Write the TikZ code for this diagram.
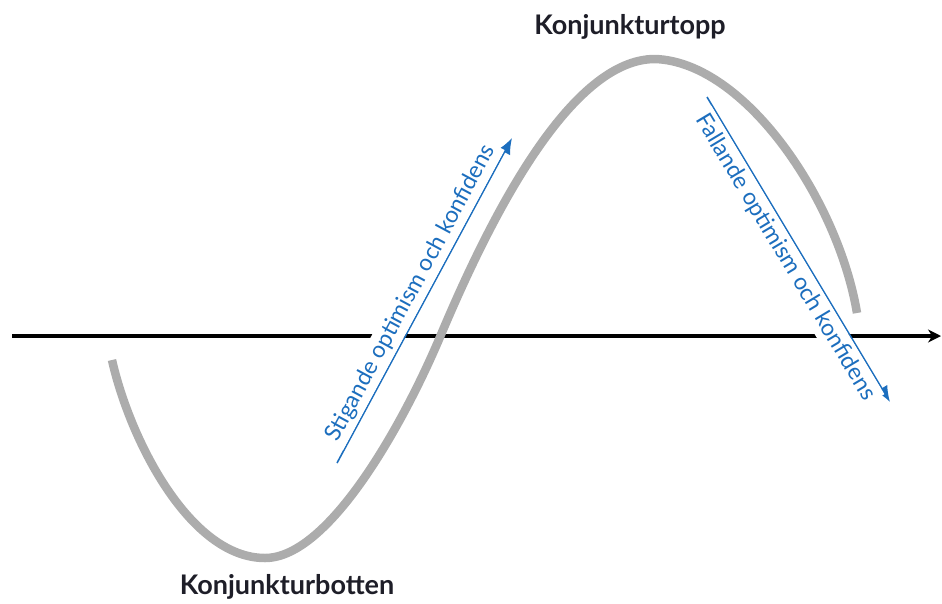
\documentclass[tikz,border=0pt]{standalone}
\usepackage{fontspec}
\setmainfont{Lato}
\usetikzlibrary{arrows.meta}

\definecolor{cyclegray}{RGB}{172,172,172}
\definecolor{trendblue}{RGB}{28,110,190}
\definecolor{labeldark}{RGB}{30,30,40}

\begin{document}
\begin{tikzpicture}[
    x=1pt, y=-1pt,
    axis/.style={line width=4pt, -{Stealth[length=13pt, width=13pt]}},
    wave/.style={line width=8.5pt, color=cyclegray},
    trend/.style={line width=1.6pt, color=trendblue, -{Latex[length=16pt, width=13pt]}},
    trendtext/.style={sloped, font=\fontsize{23}{25}\selectfont, text=trendblue, fill=white, inner sep=4pt},
    phase/.style={font=\bfseries\fontsize{27}{29}\selectfont, text=labeldark}
]
\useasboundingbox (0,0) rectangle (942,603);

% time axis
\coordinate (axisS) at (12,336);
\coordinate (axisE) at (941,336);
\draw[axis] (axisS) -- (axisE);

% business cycle
\coordinate (start) at (112,360);
\coordinate (bottom) at (265,558);
\coordinate (cross) at (440,337);
\coordinate (top) at (655,59);
\coordinate (end) at (857,313);
\draw[wave] (start) .. controls (130,440) and (190,558) .. (bottom)
    .. controls (330,558) and (405,420) .. (cross)
    .. controls (490,218) and (570,59) .. (top)
    .. controls (745,62) and (838,200) .. (end);

% trend arrows
\coordinate (riseS) at (337,463);
\coordinate (riseE) at (512,138);
\coordinate (fallS) at (707,97);
\coordinate (fallE) at (890,402);
\draw[trend] (riseS) -- node[trendtext, above] (risetext) {Stigande optimism och konfidens} (riseE);
\draw[trend] (fallS) -- node[trendtext, below] (falltext) {Fallande optimism och konfidens} (fallE);

% phases
\node[phase] (topp) at (630,27) {Konjunkturtopp};
\node[phase] (botten) at (287,587) {Konjunkturbotten};
\end{tikzpicture}
\end{document}
